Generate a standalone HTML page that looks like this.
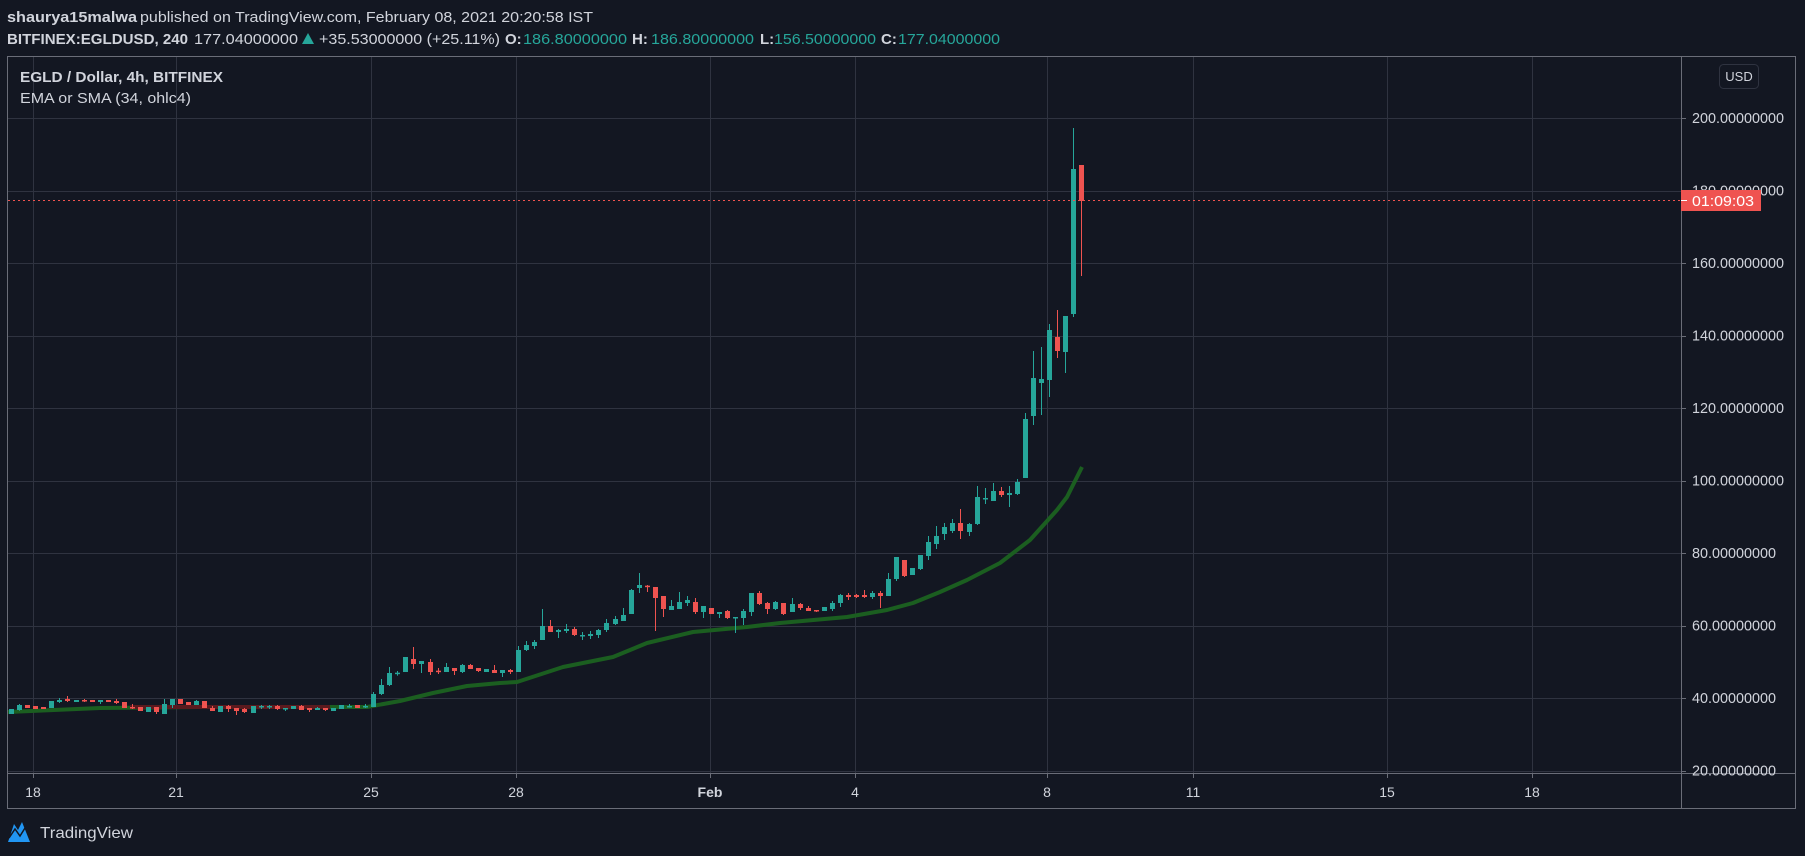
<!DOCTYPE html>
<html><head><meta charset="utf-8"><style>
html,body{margin:0;padding:0;background:#131722;}
svg{display:block;font-family:"Liberation Sans",sans-serif;}
</style></head><body>
<svg id="s" width="1805" height="856" viewBox="0 0 1805 856" xmlns="http://www.w3.org/2000/svg">
<rect width="1805" height="856" fill="#131722"/>
<g id="grid" stroke="#2f3340" stroke-width="1"></g>
<g id="ema" fill="none"></g>
<g id="candles"></g>
<line x1="8" y1="200.5" x2="1681" y2="200.5" stroke="#ef5350" stroke-width="1" stroke-dasharray="2,3"/>
<g stroke="#6a6d78" stroke-width="1" fill="none">
<rect x="7.5" y="56.5" width="1788" height="752"/>
<line x1="1681.5" y1="56" x2="1681.5" y2="809"/>
<line x1="8" y1="773.5" x2="1796" y2="773.5"/>
</g>
<g id="ptext" fill="#d1d4dc" font-size="15"></g>
<rect x="1681" y="190" width="80" height="21" fill="#ef5350"/>
<line x1="1681" y1="200.5" x2="1687" y2="200.5" stroke="#fff"/>
<text x="1692" y="206" fill="#fff" font-size="15" textLength="62" lengthAdjust="spacingAndGlyphs">01:09:03</text>
<rect x="1719.5" y="64.5" width="39" height="24" rx="4" fill="none" stroke="#2f3340"/>
<text x="1739" y="81" fill="#d1d4dc" font-size="13" text-anchor="middle">USD</text>
<g id="ttext" fill="#d1d4dc" font-size="14" text-anchor="middle"></g>
<g fill="#d1d4dc" font-size="15">
<text x="7" y="22" font-weight="bold" textLength="130" lengthAdjust="spacingAndGlyphs">shaurya15malwa</text>
<text x="140" y="22" textLength="453" lengthAdjust="spacingAndGlyphs">published on TradingView.com, February 08, 2021 20:20:58 IST</text>
<text x="7" y="44" font-weight="bold" textLength="181" lengthAdjust="spacingAndGlyphs">BITFINEX:EGLDUSD, 240</text>
<text x="194" y="44" textLength="104" lengthAdjust="spacingAndGlyphs">177.04000000</text>
<polygon points="302,44 308,33 314,44" fill="#26a69a"/>
<text x="319" y="44" textLength="181" lengthAdjust="spacingAndGlyphs">+35.53000000 (+25.11%)</text>
<text x="505" y="44" font-weight="bold">O:</text>
<text x="523" y="44" fill="#26a69a" textLength="104" lengthAdjust="spacingAndGlyphs">186.80000000</text>
<text x="632" y="44" font-weight="bold">H:</text>
<text x="651" y="44" fill="#26a69a" textLength="103" lengthAdjust="spacingAndGlyphs">186.80000000</text>
<text x="760" y="44" font-weight="bold">L:</text>
<text x="774" y="44" fill="#26a69a" textLength="102" lengthAdjust="spacingAndGlyphs">156.50000000</text>
<text x="881" y="44" font-weight="bold">C:</text>
<text x="898" y="44" fill="#26a69a" textLength="102" lengthAdjust="spacingAndGlyphs">177.04000000</text>
<text x="20" y="82" font-weight="bold" textLength="203" lengthAdjust="spacingAndGlyphs">EGLD / Dollar, 4h, BITFINEX</text>
<text x="20" y="103" textLength="171" lengthAdjust="spacingAndGlyphs">EMA or SMA (34, ohlc4)</text>
</g>
<path d="M8,842 L14,824 L18,830 L22,822 L30,842 Z" fill="#2196f3"/>
<path d="M9,838 L15,829 L20,836 L25,828" stroke="#131722" stroke-width="1.5" fill="none"/>
<text x="40" y="838" fill="#d1d4dc" font-size="16" textLength="93" lengthAdjust="spacingAndGlyphs">TradingView</text>
</svg>
<script>
var NS="http://www.w3.org/2000/svg";
function el(p,t,a,txt){var e=document.createElementNS(NS,t);for(var k in a)e.setAttribute(k,a[k]);if(txt)e.textContent=txt;document.getElementById(p).appendChild(e);return e;}
var hy=[118,190.5,263,335.5,408,480.5,553,625.5,698,770.5];
var labs=["200","180","160","140","120","100","80","60","40","20"];
hy.forEach(function(y,i){var yy=Math.round(y)+0.5;el("grid","line",{x1:8,y1:yy,x2:1681,y2:yy});
el("grid","line",{x1:1681,y1:yy,x2:1686,y2:yy,stroke:"#6a6d78"});
var s=labs[i]+".00000000";var w=s.length==12?92:84;
if(i!=1)el("ptext","text",{x:1692,y:y+5,textLength:w,lengthAdjust:"spacingAndGlyphs"},s);});
el("ptext","text",{x:1692,y:195.5,textLength:92,lengthAdjust:"spacingAndGlyphs"},"180.00000000");
var tx=[33,176,371,516,710,855,1047,1193,1387,1532],tl=["18","21","25","28","Feb","4","8","11","15","18"];
tx.forEach(function(x,i){var xx=Math.round(x)+0.5;el("grid","line",{x1:xx,y1:57,x2:xx,y2:773});
el("grid","line",{x1:xx,y1:773,x2:xx,y2:778,stroke:"#6a6d78"});
var t=el("ttext","text",{x:x,y:797},tl[i]);if(tl[i]=="Feb")t.setAttribute("font-weight","bold");});
var pts=[[8,712],[100,708],[200,707],[300,707],[367,707],[400,701],[433,693],[467,686],[500,683],[517,682],[563,667],[613,657],[647,643],[693,632],[747,627],[780,623],[847,617],[887,610],[913,603],[940,592],[967,580],[1000,563],[1030,540],[1057,510],[1067,497],[1082,467]];
el("ema","polyline",{points:pts.map(function(p){return p.join(",")}).join(" "),stroke:"#1b5e20","stroke-width":4,"stroke-linejoin":"round"});
el("ema","polyline",{points:"130,707 200,707 260,707 330,707",stroke:"#5a1a1e","stroke-width":4});
var G=[
[620,-63,[['g',267,282],['g',255,270,252,272],['r',255,264],['r',258,267],['r',261,267],['g',243,264],['g',240,246,234,249],['r',237,243,228,246],['g',240,246],['r',240,243,237,246],['r',240,246],['g',240,246,240,252],['r',240,246],['r',243,249,237,252],['r',246,264],['r',261,263,252,267],['r',261,273],['g',261,276],['r',261,276,261,282],['g',252,282,237,282],['g',237,255,237,264],['r',237,252],['r',246,255],['g',243,255,240,255],['r',243,264],['r',264,273,258,273],['g',258,276],['r',258,267,255,276],['r',264,273,264,285],['r',267,276,264,279],['g',258,279],['g',258,261,255,267],['g',258,261,255,267],['r',258,267,255,270],['g',264,267,264,273],['g',258,267],['r',258,270,255,270],['r',264,270,264,276],['g',264,270,261,270],['r',264,270,264,273],['g',264,273],['g',255,267],['g',258,260,252,263],['r',255,264],['g',258,260,252,264],
['g',222,261,216,261],['g',195,222,177,225],['g',159,195,141,198],['g',158,160,153,167],['g',111,156],['r',117,132,81,147],['g',123,132,123,159],['r',126,156,117,165],['r',152,154,144,162],['g',141,156,129,156],['r',144,153,144,165],['g',135,156,132,159],['r',135,147,132,147],['r',144,153,144,156]]],
[560,-4,[['g',327,336],['r',330,339,315,339],['g',330,339,330,351],['r',330,336,327,342],['g',270,336,258,336],
['g',255,270,243,273],['g',246,258,240,267],['g',198,240,147,240],['r',198,216,180,216],['g',210,216,207,234],['g',207,213,192,219],['r',207,225,201,228],['g',225,227,216,240],['g',222,228,213,237],['g',210,225,207,234],['g',189,210,177,216],['g',177,192,168,195],['g',165,183,144,183],['g',90,162,87,162],['g',75,84,39,99],['r',77,79,75,96],['r',81,114,81,213],['r',108,147,108,171],['g',138,150,120,150],['g',126,147,96,147],['g',120,129,108,138],['r',126,156,114,162],['g',138,156,138,174],['r',144,162],['g',156,162,156,174],['r',153,174,150,177],['g',171,173,171,219],['g',153,174,147,195],['g',99,156,99,168],['r',99,132,93,135],['r',129,147,126,162],['g',126,147,123,150],['r',129,162,129,165],['g',132,156,114,156],['r',132,144,129,150],['r',144,153,138,153],['r',150,152,150,156],['g',141,153],['g',129,147,123,153],['g',105,129,102,141],['r',105,111,99,120],['r',105,111,102,114],['r',105,111,90,114],['g',99,111,93,117],['r',99,108,93,144],['g',57,108,39,108]]],
[440,47,[['g',351,417,351,423],['r',360,408,360,411],['g',384,405],['g',345,387,345,390],['g',306,348,288,360],['g',288,312,258,327],['g',261,282,249,300],['g',249,273,237,279],['r',249,273,207,297],['g',252,276,249,288],['g',171,252,138,255],['g',174,176,144,192],['g',153,183,129,183]]],
[110,60,[['r',1143,1155,1131,1161],['g',1149,1155,1128,1191],['g',1116,1152,1107,1155],['g',927,1104,909,1104],['g',804,918,723,945],['g',807,819,711,915],['g',660,810,642,861],['r',681,723,600,744],['g',618,726,618,789],['g',177,612,54,621],['r',165,273,165,498]]]
];
G.forEach(function(g){var base=g[0],i0=g[1];g[2].forEach(function(c,k){var i=i0+k;var x=518+8.045*i;
var col=c[0]=='g'?'#26a69a':'#ef5350';var bt=base+c[1]/3,bb=base+c[2]/3;
var wt=base+(c[3]!==undefined?c[3]:c[1])/3,wb=base+(c[4]!==undefined?c[4]:c[2])/3;
var xc=Math.round(x);
el("candles","rect",{x:xc,y:wt,width:1,height:Math.max(1,wb-wt),fill:col});
el("candles","rect",{x:xc-2,y:bt,width:5,height:Math.max(1.5,bb-bt),fill:col});});});
</script>
</body></html>
